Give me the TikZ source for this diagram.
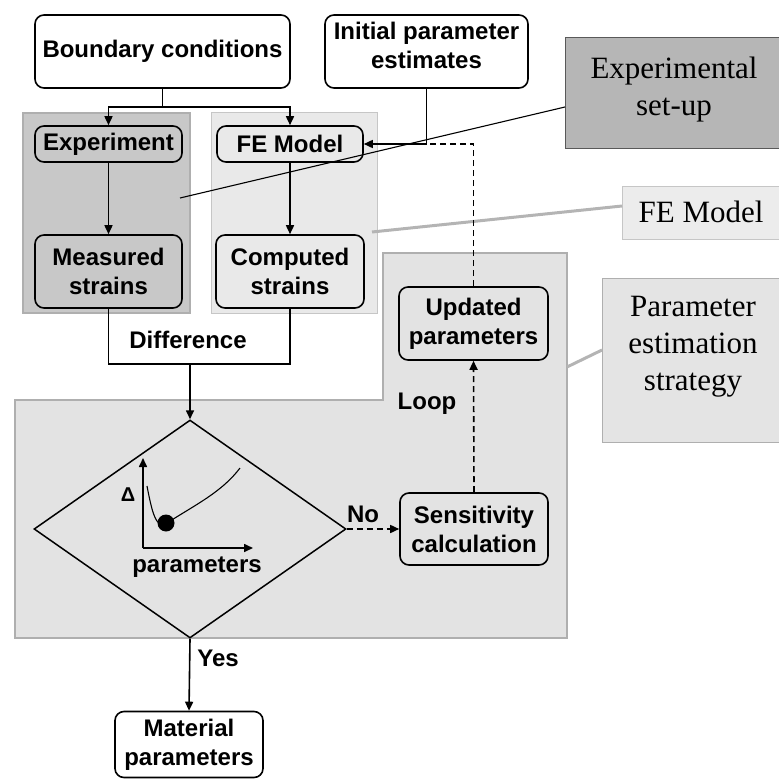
\documentclass[tikz,border=0pt]{standalone}
\usepackage{fontspec}
\usetikzlibrary{shapes.geometric,arrows.meta,calc}
\newfontfamily\sansfnt{Liberation Sans}
\newfontfamily\seriffnt{Liberation Serif}
\definecolor{darkreg}{RGB}{200,200,200}
\definecolor{lightreg}{RGB}{233,233,233}
\definecolor{paramreg}{RGB}{227,227,227}
\definecolor{setupfill}{RGB}{182,182,182}
\definecolor{felabfill}{RGB}{236,236,236}
\definecolor{pesfill}{RGB}{228,228,228}
\definecolor{regborder}{RGB}{175,175,175}
\definecolor{linkgray}{RGB}{180,180,180}
\tikzset{
  sbox/.style={draw=black, line width=1.6pt, rounded corners=9pt, align=center,
    inner sep=0pt, font=\sansfnt\bfseries\fontsize{24}{29}\selectfont},
  arr/.style={line width=1.6pt, -{Triangle[length=9pt,width=8pt]}},
  plain/.style={line width=1.6pt},
  dsh/.style={dash pattern=on 6pt off 4pt},
  lbl/.style={font=\sansfnt\bfseries\fontsize{24}{29}\selectfont, inner sep=0pt},
  serlbl/.style={font=\seriffnt\fontsize{31}{37}\selectfont, align=center, inner sep=0pt},
}
\begin{document}
\begin{tikzpicture}[x=1pt,y=-1pt]
\useasboundingbox (0,0) rectangle (778,783);
% regions
\draw[fill=darkreg, draw=regborder, line width=1.2pt] (23,113) rectangle (190,313);
\draw[fill=lightreg, draw=lightreg!85!black, line width=1pt] (211,113) rectangle (377,313);
\draw[fill=paramreg, draw=regborder, line width=1.2pt]
  (15,400) -- (383,400) -- (383,253) -- (567,253) -- (567,638) -- (15,638) -- cycle;
% label boxes
\draw[fill=setupfill, draw=gray!70!black, line width=1pt] (565,38) rectangle (800,149);
\node[serlbl] (setup) at (674,90) {Experimental\\set-up};
\draw[fill=felabfill, draw=lightreg!85!black, line width=1pt] (622,187) rectangle (800,240);
\node[serlbl] (felab) at (701,212) {FE Model};
\draw[fill=pesfill, draw=regborder, line width=1pt] (602,278) rectangle (800,442);
\node[serlbl] (pes) at (693,347) {Parameter\\estimation\\strategy};
% link lines
\coordinate (setupL) at (565,107);
\coordinate (setupT) at (180,198);
\coordinate (felabL) at (622,206);
\coordinate (felabT) at (372,232);
\coordinate (pesL) at (602,350);
\coordinate (pesT) at (567,367);
\draw[linkgray, line width=3pt] (felabL) -- (felabT);
\draw[linkgray, line width=3pt] (pesL) -- (pesT);
% flowchart boxes
\node[sbox, fill=white, minimum width=255pt, minimum height=73pt] (bc) at (162.5,51.5) {Boundary conditions};
\node[sbox, fill=white, minimum width=203pt, minimum height=73pt] (ipe) at (426.5,51.5) {Initial parameter\\estimates\rule[-12pt]{0pt}{0pt}};
\node[sbox, fill=darkreg, minimum width=147pt, minimum height=36pt] (exp) at (108.5,144) {Experiment};
\node[sbox, fill=lightreg, minimum width=146pt, minimum height=36pt] (fem) at (290,144) {FE Model};
\node[sbox, fill=darkreg, minimum width=147pt, minimum height=73pt] (meas) at (108.5,271.5) {Measured\\strains};
\node[sbox, fill=lightreg, minimum width=148pt, minimum height=73pt] (comp) at (290,271.5) {Computed\\strains};
\node[sbox, fill=paramreg, minimum width=149pt, minimum height=73pt] (upd) at (473.5,323.5) {Updated\\parameters};
\node[sbox, fill=paramreg, minimum width=148pt, minimum height=72pt] (sens) at (474,529) {Sensitivity\\calculation};
\node[sbox, fill=white, minimum width=148pt, minimum height=66pt] (mat) at (189,744.5) {Material\\parameters};
\node[draw=black, line width=1.5pt, shape=diamond, minimum width=312pt, minimum height=218pt, inner sep=0pt] (dia) at (190,529) {};
% connectors
\draw[plain] (bc.south) -- ++(0,18) coordinate (bsplit);
\draw[arr] (bsplit) -| (exp.north);
\draw[arr] (bsplit) -| (fem.north);
\draw[arr] (exp.south) -- (meas.north);
\draw[arr] (fem.south) -- (comp.north);
\draw[arr] (ipe.south) |- (fem.east);
\draw[plain, dsh] (upd.north) |- (ipe.south |- fem.east);
\draw[plain] (meas.south) -- ++(0,55) coordinate (dl) -| (comp.south);
\draw[arr] (dia.north |- dl) -- (dia.north);
\draw[arr, dsh] (dia.east) -- (sens.west);
\draw[arr, dsh] (sens.north) -- (upd.south);
\draw[arr] (dia.south) -- (mat.north);
% labels
\node[lbl] (difflbl) at (188,340) {Difference};
\node[lbl] (nolbl) at (363,514) {No};
\node[lbl] (looplbl) at (427,404) {Loop};
\node[lbl] (yeslbl) at (218,658) {Yes};
% graph inside diamond
\draw[line width=1.6pt, -{Triangle[length=9pt,width=8pt]}] (143,548) -- (143,458);
\draw[line width=1.6pt, -{Triangle[length=9pt,width=8pt]}] (143,548) -- (253,548);
\draw[line width=1.1pt] (147,486) .. controls (152,512) and (156,530) .. (167,523)
  .. controls (195,505) and (222,492) .. (240,468);
\fill (166,523) circle (8.5pt);
\node[font=\sansfnt\bfseries\fontsize{20}{24}\selectfont, inner sep=0pt] (delta) at (128,495) {Δ};
\node[lbl] (parlbl) at (197,567) {parameters};
% experimental set-up link drawn on top
\draw[black, line width=1.1pt] (setupL) -- (setupT);
\end{tikzpicture}
\end{document}
